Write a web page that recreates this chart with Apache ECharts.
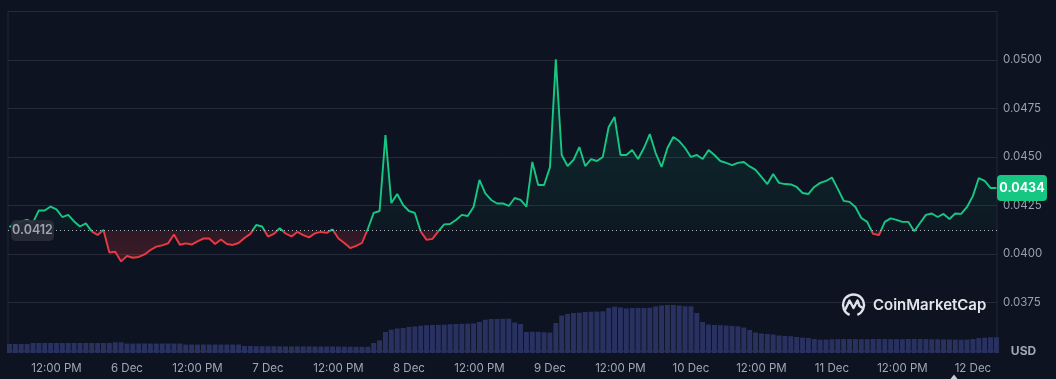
<!DOCTYPE html>
<html><head><meta charset="utf-8">
<script src="https://cdn.jsdelivr.net/npm/echarts@6/dist/echarts.min.js"></script>
<style>html,body{margin:0;padding:0;background:#0d1320;}#c{width:1056px;height:379px;}</style>
</head><body><div id="c"></div>
<script>
// first point: 5 Dec 04:00, hourly; hours counted from 6 Dec 00:00
const startHour = -20;
const prices = [
  0.04139,0.04154,0.04167,0.04175,0.04161,0.04224,0.04224,0.04244,0.04229,0.04190,0.04201,0.04167,
  0.04141,0.04157,0.04116,0.04097,0.04123,0.04007,0.04011,0.03961,0.03989,0.03980,0.03984,0.03997,
  0.04020,0.04037,0.04044,0.04054,0.04100,0.04047,0.04054,0.04048,0.04064,0.04079,0.04079,0.04051,
  0.04074,0.04051,0.04046,0.04056,0.04082,0.04103,0.04149,0.04141,0.04089,0.04103,0.04132,0.04105,
  0.04090,0.04113,0.04097,0.04085,0.04106,0.04113,0.04108,0.04126,0.04079,0.04056,0.04030,0.04041,
  0.04056,0.04128,0.04211,0.04221,0.04613,0.04262,0.04309,0.04252,0.04221,0.04211,0.04115,0.04072,
  0.04077,0.04116,0.04152,0.04154,0.04175,0.04201,0.04195,0.04242,0.04381,0.04312,0.04278,0.04260,
  0.04260,0.04247,0.04288,0.04278,0.04244,0.04474,0.04355,0.04355,0.04446,0.05003,0.04510,0.04453,
  0.04484,0.04551,0.04453,0.04489,0.04479,0.04500,0.04654,0.04706,0.04510,0.04510,0.04536,0.04489,
  0.04546,0.04618,0.04520,0.04448,0.04546,0.04603,0.04582,0.04546,0.04500,0.04510,0.04489,0.04536,
  0.04510,0.04479,0.04469,0.04458,0.04469,0.04474,0.04451,0.04433,0.04397,0.04360,0.04412,0.04366,
  0.04360,0.04358,0.04345,0.04314,0.04309,0.04345,0.04366,0.04376,0.04394,0.04335,0.04273,0.04268,
  0.04242,0.04185,0.04165,0.04103,0.04097,0.04165,0.04183,0.04175,0.04165,0.04165,0.04116,0.04159,
  0.04201,0.04208,0.04190,0.04206,0.04180,0.04208,0.04206,0.04242,0.04299,0.04391,0.04376,0.04340,
  0.04340
];
const volumes = [
  9,9,9,9,10,10,10,10,10,10,10,10,
  10,10,10,10,10,10,10.7,10.7,9.5,9.5,9.5,9.5,
  9.5,9.5,9.5,9.5,9.5,9.5,8.5,8.5,8.5,8.5,8.5,8.5,
  8.5,8.5,8.5,8.5,7,7,6.8,6.8,6.7,6.7,6.7,6.6,
  6.6,6.6,6.6,6.6,6.5,6.5,6.5,6.5,6.4,6.4,6.3,6.2,
  6.2,6.2,10,12.7,21,23.3,24.5,25,26,26.5,27.3,27.8,
  28,28.2,28.3,28.8,29,29.2,29.3,29.6,31,33.3,34,34,
  34.2,34.3,30.5,29,21,21.3,21.2,20.8,20.5,30,37.5,39,
  40,40.3,41,41.3,41.5,41.7,45,46.3,45.5,44.5,45,45,
  45,45.3,46.5,47.5,48,48,47.5,46.7,46.7,40,31,28.5,
  28,27.8,27.5,27,26.7,25.5,23,20.5,19.5,19,18.5,17.5,
  17,16.8,16,15.3,15,14,13.3,13.5,13.7,13.8,14,14,
  13.9,13.8,13.8,14,14,13.9,13.8,13.8,13.8,14,14,14,
  13.9,13.8,13.7,13.6,13.5,13.4,13.3,13.5,14,15,15.3,15.7,
  15.7
];
const baseline = 0.0412;
const xTickHours = [-12,0,12,24,36,48,60,72,84,96,108,120,132,144];
const dayNames = ['6 Dec','7 Dec','8 Dec','9 Dec','10 Dec','11 Dec','12 Dec'];
const priceLabelValues = [0.0375,0.04,0.0425,0.045,0.0475,0.05];

const hours = prices.map((_, i) => startHour + i);
const pricePts = prices.map((v, i) => [hours[i], v]);
const upPts = prices.map((v, i) => [hours[i], Math.max(v, baseline)]);
const downPts = prices.map((v, i) => [hours[i], Math.min(v, baseline)]);
const volPts = volumes.map((v, i) => [startHour + i, v]);

const GREEN = '#16c784', RED = '#ea3943';
const FONT = 'Inter';
const chart = echarts.init(document.getElementById('c'), null, {renderer: 'canvas'});

const option = {
  backgroundColor: '#0d1320',
  animation: false,
  textStyle: {fontFamily: FONT},
  grid: [
    {left: 8, right: 59, top: 11.5, height: 339.3, show: true, borderColor: '#222936', borderWidth: 1},
    {left: 8, right: 59, top: 253, bottom: 26}
  ],
  xAxis: [
    {type: 'value', gridIndex: 0, min: -20.25, max: 148.1, show: false},
    {type: 'value', gridIndex: 1, min: -20.25, max: 148.1,
     axisLine: {show: false}, axisTick: {show: false}, splitLine: {show: false},
     axisLabel: {customValues: xTickHours, color: '#a1a7b3', fontSize: 11.5, margin: 10, fontFamily: FONT,
       formatter: v => (v % 24 === 0 ? dayNames[v / 24] : '12:00 PM')}}
  ],
  yAxis: [
    {type: 'value', gridIndex: 0, position: 'right', min: 0.035, max: 0.0525, interval: 0.0025,
     axisLine: {show: false}, axisTick: {show: false},
     splitLine: {lineStyle: {color: '#252b38', width: 1}},
     axisLabel: {color: '#9aa1ad', fontSize: 11.5, margin: 6, fontFamily: FONT,
       formatter: v => priceLabelValues.some(p => Math.abs(p - v) < 1e-7) ? v.toFixed(4) : ''}},
    {type: 'value', gridIndex: 1, min: 0, max: 100, show: false}
  ],
  series: [
    {type: 'bar', xAxisIndex: 1, yAxisIndex: 1, data: volPts, barWidth: '84%',
     itemStyle: {color: '#293160'}, silent: true, z: 2},
    {type: 'line', data: upPts, symbol: 'none', silent: true, lineStyle: {opacity: 0, width: 0},
     areaStyle: {origin: baseline, color: new echarts.graphic.LinearGradient(0, 0, 0, 1, [
       {offset: 0, color: 'rgba(22,199,132,0.24)'}, {offset: 1, color: 'rgba(22,199,132,0.04)'}])}, z: 1},
    {type: 'line', data: downPts, symbol: 'none', silent: true, lineStyle: {opacity: 0, width: 0},
     areaStyle: {origin: baseline, color: new echarts.graphic.LinearGradient(0, 0, 0, 1, [
       {offset: 0, color: 'rgba(234,57,67,0.22)'}, {offset: 1, color: 'rgba(234,57,67,0.30)'}])}, z: 1},
    {id: 'price', type: 'line', data: pricePts, symbol: 'none', lineStyle: {width: 1.9, color: GREEN}, z: 3,
     markLine: {silent: true, symbol: 'none', precision: 5, label: {show: false},
       lineStyle: {color: '#c3c7cf', type: [1, 3], width: 1, opacity: 0.9},
       data: [{yAxis: baseline}]}}
  ]
};
chart.setOption(option);

const yBase = chart.convertToPixel({yAxisIndex: 0}, baseline);
const yTop = chart.convertToPixel({yAxisIndex: 0}, 0.0525);
const yBot = chart.convertToPixel({yAxisIndex: 0}, 0.035);
const t = (yBase - yTop) / (yBot - yTop);
const lastPrice = prices[prices.length - 1];
const yLast = chart.convertToPixel({yAxisIndex: 0}, lastPrice);
chart.setOption({
  series: [{id: 'price', lineStyle: {color: new echarts.graphic.LinearGradient(0, yTop, 0, yBot, [
    {offset: 0, color: GREEN}, {offset: t, color: GREEN}, {offset: t, color: RED}, {offset: 1, color: RED}], true)}}],
  graphic: [
    {type: 'rect', shape: {x: 11, y: yBase - 10.5, width: 43, height: 21, r: 5}, style: {fill: 'rgba(40,45,56,0.92)'}, z: 10},
    {type: 'text', x: 32.5, y: yBase, style: {text: baseline.toFixed(4), fill: '#9ea4af', font: '600 12.5px Inter', align: 'center', verticalAlign: 'middle'}, z: 11},
    {type: 'rect', shape: {x: 997, y: yLast - 13, width: 50, height: 26, r: 4}, style: {fill: GREEN}, z: 10},
    {type: 'text', x: 1022, y: yLast, style: {text: lastPrice.toFixed(4), fill: '#ffffff', font: 'bold 12.5px Inter', align: 'center', verticalAlign: 'middle'}, z: 11},
    {type: 'text', x: 1023.5, y: 351, style: {text: 'USD', fill: '#a1a7b3', font: 'bold 12px Inter', align: 'center', verticalAlign: 'middle'}, z: 11},
    {type: 'arc', shape: {cx: 853.5, cy: 305, r: 10.5, startAngle: Math.PI * 0.62, endAngle: Math.PI * 0.38 + Math.PI * 2}, style: {stroke: '#dfe2e8', lineWidth: 2.4, fill: 'none'}, z: 11},
    {type: 'polyline', shape: {points: [[845.5, 309], [849.5, 300.5], [853.5, 308], [857.5, 300.5], [859.5, 306], [862, 307.5]]}, style: {stroke: '#dfe2e8', lineWidth: 2.4, fill: 'none', lineJoin: 'round', lineCap: 'round'}, z: 11},
    {type: 'text', x: 873, y: 305.5, style: {text: 'CoinMarketCap', fill: '#e2e5ea', font: '600 15px Inter', align: 'left', verticalAlign: 'middle'}, z: 11},
    {type: 'polygon', shape: {points: [[950.5, 379], [954, 374.5], [957.5, 379]]}, style: {fill: '#c9ccd3'}, z: 11}
  ]
});
</script>
</body></html>
